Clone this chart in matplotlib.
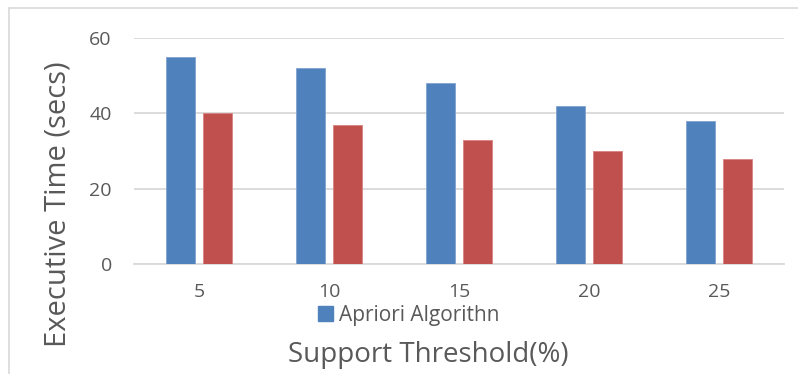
import matplotlib

matplotlib.use("Agg")
import matplotlib.pyplot as plt
import numpy as np
from matplotlib.patches import Patch

# 数据
thresholds = ["5", "10", "15", "20", "25"]
apriori_times = [55, 52, 48, 42, 38]
other_times = [40, 37, 33, 30, 28]

BLUE = "#4F81BD"
RED = "#C0504D"
TEXT = "#595959"
GRID = "#D9D9D9"

plt.rcParams["font.family"] = ["Open Sans", "DejaVu Sans"]

fig = plt.figure(figsize=(7.98, 3.74), dpi=100)
ax = fig.add_axes([134 / 798, 1 - 264 / 374, 650 / 798, 226 / 374])

x = np.arange(len(thresholds))
width = 0.223
offset = 0.031 + width / 2
ax.bar(x - offset, apriori_times, width, color=BLUE, edgecolor="#7FA3D1", linewidth=0.6, zorder=3)
ax.bar(x + offset, other_times, width, color=RED, edgecolor="#D9827F", linewidth=0.6, zorder=3)

ax.set_xlim(-0.5, len(thresholds) - 0.5)
ax.set_ylim(0, 60)
ax.set_yticks([0, 20, 40, 60])
ax.set_xticks(x)
ax.set_xticklabels(thresholds)
ax.yaxis.grid(True, color=GRID, linewidth=1.3, zorder=0)
ax.set_axisbelow(True)
for side in ("top", "right", "left"):
    ax.spines[side].set_visible(False)
ax.spines["bottom"].set_color(GRID)
ax.spines["bottom"].set_linewidth(1.3)
ax.tick_params(axis="both", length=0, labelsize=14, colors=TEXT)
ax.tick_params(axis="y", pad=16)
ax.tick_params(axis="x", pad=14)

fig.text(58 / 798, 1 - 204 / 374, "Executive Time (secs)", rotation=90,
         ha="center", va="center", fontsize=21, color=TEXT)
fig.text(428 / 798, 1 - 355 / 374, "Support Threshold(%)",
         ha="center", va="center", fontsize=20, color=TEXT)

handles = [Patch(facecolor=BLUE, edgecolor=BLUE)]
fig.legend(handles, ["Apriori Algorithn"], loc="center", bbox_to_anchor=(409 / 798, 1 - 315 / 374),
           frameon=False, fontsize=15, labelcolor=TEXT, handlelength=0.7, handleheight=0.7,
           handletextpad=0.3, borderpad=0)

# 外框（上、左）
fig.add_artist(plt.Line2D([9 / 798, 1], [1 - 8 / 374, 1 - 8 / 374], color=GRID, linewidth=1.2))
fig.add_artist(plt.Line2D([9 / 798, 9 / 798], [0, 1 - 8 / 374], color=GRID, linewidth=1.2))

fig.savefig("out.png", dpi=100)
